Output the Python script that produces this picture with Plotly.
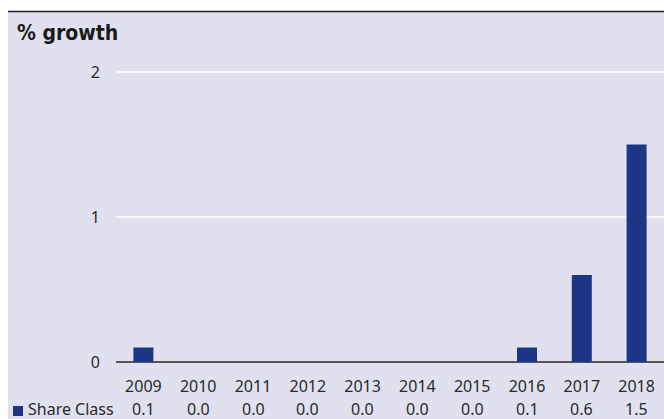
import plotly.graph_objects as go

years = ["2009", "2010", "2011", "2012", "2013", "2014", "2015", "2016", "2017", "2018"]
share_class = [0.1, 0.0, 0.0, 0.0, 0.0, 0.0, 0.0, 0.1, 0.6, 1.5]
series_name = "Share Class"
y_ticks = [0, 1, 2]

BAR = "#1c3585"
BG = "#e0e0ee"
TXT = "#2a2a2a"
FONT = "Noto Sans"

W, H = 664, 419
L, R, T, B = 116, 0, 60, 57
pw, ph = W - L - R, H - T - B


def px_x(p):
    return (p - L) / pw


def px_y(p):
    return (H - B - p) / ph


fig = go.Figure()
fig.add_trace(go.Bar(x=years, y=share_class, marker_color=BAR, marker_line_width=0,
                     name=series_name, showlegend=False))

shapes = [
    dict(type="rect", xref="paper", yref="paper", x0=px_x(8), x1=px_x(664), y0=px_y(419), y1=px_y(12),
         fillcolor=BG, line_width=0, layer="below"),
    dict(type="line", xref="paper", yref="paper", x0=px_x(8), x1=px_x(664), y0=px_y(11.5), y1=px_y(11.5),
         line=dict(color="#222222", width=1.5)),
    dict(type="rect", xref="paper", yref="paper", x0=px_x(13), x1=px_x(23), y0=px_y(416), y1=px_y(406),
         fillcolor=BAR, line_width=0),
]

annotations = [
    dict(text="<b>% growth</b>", xref="paper", yref="paper", x=px_x(15), y=px_y(33),
         xanchor="left", yanchor="middle", showarrow=False, font=dict(family="DejaVu Sans Condensed", size=21, color="#1a1a1a")),
    dict(text=series_name, xref="paper", yref="paper", x=px_x(26), y=px_y(409),
         xanchor="left", yanchor="middle", showarrow=False, font=dict(family=FONT, size=16, color=TXT)),
]
for i, v in enumerate(share_class):
    annotations.append(dict(text=f"{v:.1f}", xref="x", yref="paper", x=i, y=px_y(409),
                            xanchor="center", yanchor="middle", showarrow=False,
                            font=dict(family=FONT, size=16, color=TXT)))

fig.update_layout(
    width=W, height=H,
    margin=dict(l=L, r=R, t=T, b=B, pad=0),
    paper_bgcolor="white",
    plot_bgcolor="rgba(0,0,0,0)",
    bargap=0.635,
    font=dict(family=FONT, size=16, color=TXT),
    shapes=shapes,
    annotations=annotations,
    xaxis=dict(type="category", showgrid=False, showline=False, zeroline=False,
               ticks="outside", ticklen=10, tickcolor="rgba(0,0,0,0)",
               tickfont=dict(family=FONT, size=16, color=TXT), range=[-0.5, 9.5]),
    yaxis=dict(range=[0, ph / 145.0], tickvals=y_ticks, ticktext=[str(t) for t in y_ticks],
               showgrid=True, gridcolor="#f6f6fb", gridwidth=1.5,
               zeroline=True, zerolinecolor="#555555", zerolinewidth=1.5,
               showline=False, ticks="outside", ticklen=12, tickcolor="rgba(0,0,0,0)",
               tickfont=dict(family=FONT, size=16, color=TXT)),
)

fig.write_html("out.html", config={"displayModeBar": False},
               post_script="document.body.style.margin='0';document.body.style.overflow='hidden';")
